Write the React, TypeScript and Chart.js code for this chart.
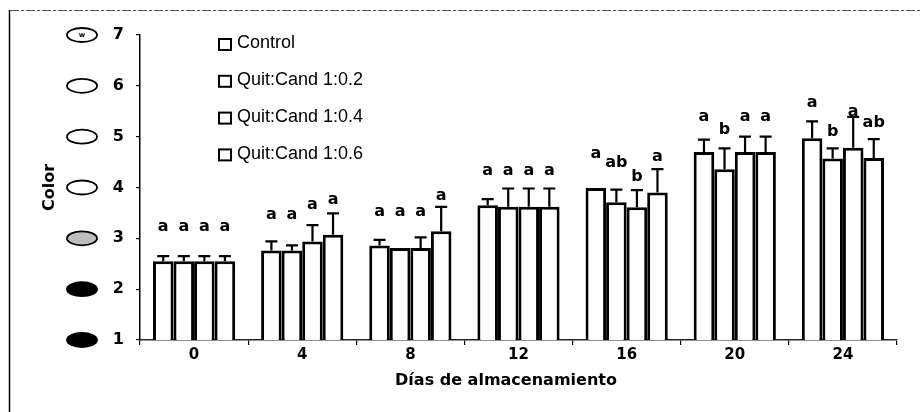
import React, { useEffect, useRef } from 'react';
import { Chart, registerables } from 'chart.js';

Chart.register(...registerables);

// ---- data ----
const categories = ['0', '4', '8', '12', '16', '20', '24'];
const seriesNames = ['Control', 'Quit:Cand 1:0.2', 'Quit:Cand 1:0.4', 'Quit:Cand 1:0.6'];

const controlValues = [2.55, 2.76, 2.86, 3.65, 3.99, 4.70, 4.97];
const qc02Values = [2.55, 2.76, 2.81, 3.62, 3.71, 4.36, 4.57];
const qc04Values = [2.55, 2.94, 2.81, 3.62, 3.61, 4.70, 4.78];
const qc06Values = [2.55, 3.07, 3.14, 3.62, 3.90, 4.70, 4.58];

const controlErr = [0.10, 0.18, 0.11, 0.12, 0.0, 0.24, 0.33];
const qc02Err = [0.10, 0.10, 0.0, 0.36, 0.25, 0.41, 0.20];
const qc04Err = [0.10, 0.32, 0.21, 0.36, 0.34, 0.30, 0.61];
const qc06Err = [0.10, 0.42, 0.48, 0.36, 0.46, 0.30, 0.37];

const controlLetters = ['a', 'a', 'a', 'a', 'a', 'a', 'a'];
const qc02Letters = ['a', 'a', 'a', 'a', 'ab', 'b', 'b'];
const qc04Letters = ['a', 'a', 'a', 'a', 'b', 'a', 'a'];
const qc06Letters = ['a', 'a', 'a', 'a', 'a', 'a', 'ab'];

// heights (in Color units) at which the significance letters sit
const controlLetterY = [3.23, 3.46, 3.52, 4.32, 4.66, 5.39, 5.66];
const qc02LetterY = [3.23, 3.46, 3.52, 4.32, 4.48, 5.13, 5.09];
const qc04LetterY = [3.23, 3.66, 3.52, 4.32, 4.21, 5.39, 5.49];
const qc06LetterY = [3.23, 3.75, 3.83, 4.32, 4.60, 5.39, 5.27];

const yMin = 1;
const yMax = 7;
const yTitle = 'Color';
const xTitle = 'Días de almacenamiento';

// ---- styles ----
const BOLD_FONT = '"DejaVu Sans", sans-serif';
const LEGEND_FONT = '"Liberation Sans", Arial, sans-serif';
// fill of the colour-scale ellipse next to ticks 1..7
const ellipseFills = ['#000000', '#000000', '#bdbdbd', '#ffffff', '#ffffff', '#ffffff', '#ffffff'];

const valuesList = [controlValues, qc02Values, qc04Values, qc06Values];
const errList = [controlErr, qc02Err, qc04Err, qc06Err];
const lettersList = [controlLetters, qc02Letters, qc04Letters, qc06Letters];
const letterYList = [controlLetterY, qc02LetterY, qc04LetterY, qc06LetterY];

const decorPlugin = {
  id: 'decor',
  beforeDraw(chart: any) {
    const ctx = chart.ctx;
    ctx.save();
    ctx.strokeStyle = '#000';
    ctx.lineWidth = 1.5;
    ctx.beginPath();
    ctx.moveTo(9.5, 10);
    ctx.lineTo(9.5, 412);
    ctx.stroke();
    ctx.strokeStyle = '#555';
    ctx.lineWidth = 1;
    ctx.setLineDash([9, 2, 3, 2]);
    ctx.beginPath();
    ctx.moveTo(10, 10.5);
    ctx.lineTo(921, 10.5);
    ctx.stroke();
    ctx.restore();
  },
  afterDatasetsDraw(chart: any) {
    const ctx = chart.ctx;
    const y = chart.scales.y;
    ctx.save();
    chart.data.datasets.forEach((ds: any, di: number) => {
      const meta = chart.getDatasetMeta(di);
      meta.data.forEach((bar: any, i: number) => {
        const v = ds.data[i];
        const e = errList[di][i];
        if (e > 0) {
          const yTop = y.getPixelForValue(v);
          const yE = y.getPixelForValue(v + e);
          ctx.strokeStyle = '#000';
          ctx.lineWidth = 2.2;
          ctx.beginPath();
          ctx.moveTo(bar.x, yTop);
          ctx.lineTo(bar.x, yE);
          ctx.moveTo(bar.x - 6, yE);
          ctx.lineTo(bar.x + 6, yE);
          ctx.stroke();
        }
        ctx.fillStyle = '#000';
        ctx.font = 'bold 16px ' + BOLD_FONT;
        ctx.textAlign = 'center';
        ctx.textBaseline = 'middle';
        ctx.fillText(lettersList[di][i], bar.x, y.getPixelForValue(letterYList[di][i]));
      });
    });
    ctx.restore();
  },
  afterDraw(chart: any) {
    const ctx = chart.ctx;
    const y = chart.scales.y;
    ctx.save();
    // colour-scale ellipses
    for (let v = yMin; v <= yMax; v++) {
      const py = y.getPixelForValue(v);
      ctx.beginPath();
      ctx.ellipse(82, py, 15, 7, 0, 0, Math.PI * 2);
      ctx.fillStyle = ellipseFills[v - yMin];
      ctx.fill();
      ctx.strokeStyle = '#000';
      ctx.lineWidth = 1.8;
      ctx.stroke();
      if (v === yMax) {
        ctx.fillStyle = '#000';
        ctx.font = 'bold 7px ' + BOLD_FONT;
        ctx.textAlign = 'center';
        ctx.textBaseline = 'middle';
        ctx.fillText('w', 82, py);
      }
    }
    // legend
    const lx = 219;
    const ly0 = 43.5;
    const step = 36.8;
    chart.data.datasets.forEach((ds: any, di: number) => {
      const cy = ly0 + di * step;
      ctx.fillStyle = '#fff';
      ctx.fillRect(lx, cy - 4.5, 12, 11);
      ctx.strokeStyle = '#000';
      ctx.lineWidth = 2;
      ctx.strokeRect(lx, cy - 4.5, 12, 11);
      ctx.fillStyle = '#000';
      ctx.font = '18px ' + LEGEND_FONT;
      ctx.textAlign = 'left';
      ctx.textBaseline = 'middle';
      ctx.fillText(ds.label, lx + 18, cy);
    });
    // x title
    ctx.font = 'bold 16px ' + BOLD_FONT;
    ctx.textAlign = 'center';
    ctx.textBaseline = 'middle';
    ctx.fillStyle = '#000';
    ctx.fillText(xTitle, 506, 381);
    ctx.restore();
  },
};

export default function App() {
  const ref = useRef<HTMLCanvasElement>(null);

  useEffect(() => {
    if (!ref.current) return;
    const chart = new Chart(ref.current, {
      type: 'bar',
      data: {
        labels: categories,
        datasets: seriesNames.map((name, i) => ({
          label: name,
          data: valuesList[i],
          backgroundColor: '#ffffff',
          borderColor: '#000000',
          borderWidth: 3,
          borderSkipped: false,
          categoryPercentage: 0.76,
          barPercentage: 1,
        })),
      },
      options: {
        responsive: false,
        animation: false,
        layout: { padding: { left: 38, right: 24, top: 35, bottom: 20 } },
        plugins: {
          legend: { display: false },
          tooltip: { enabled: false },
        },
        scales: {
          x: {
            afterFit: (s: any) => { s.height = 52; },
            grid: { offset: true, drawOnChartArea: false, tickLength: 5, color: '#000', lineWidth: 1.2 },
            border: { color: '#222', width: 1.5, dash: [5, 2] },
            ticks: { color: '#000', padding: 1, font: { family: BOLD_FONT, size: 15, weight: 'bold' } },
          },
          y: {
            min: yMin,
            max: yMax,
            afterFit: (s: any) => { s.width = 102; },
            grid: { drawOnChartArea: false, tickLength: 4, color: '#000', lineWidth: 1.2 },
            border: { color: '#000', width: 1.5 },
            ticks: { stepSize: 1, color: '#000', padding: 12, font: { family: BOLD_FONT, size: 16, weight: 'bold' } },
            title: {
              display: true,
              text: yTitle,
              color: '#000',
              padding: { top: 2, bottom: 0 },
              font: { family: BOLD_FONT, size: 16, weight: 'bold' },
            },
          },
        },
      },
      plugins: [decorPlugin],
    });
    return () => chart.destroy();
  }, []);

  return (
    <div style={{ position: 'fixed', left: 0, top: 0, width: 921, height: 412, background: '#fff' }}>
      <canvas ref={ref} width={921} height={412} />
    </div>
  );
}
